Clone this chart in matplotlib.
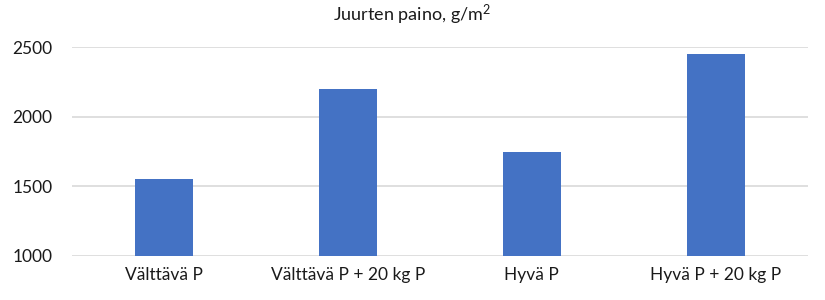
import matplotlib
matplotlib.use("Agg")
import matplotlib.pyplot as plt

categories = ["Välttävä P", "Välttävä P + 20 kg P", "Hyvä P", "Hyvä P + 20 kg P"]
values = [1550, 2200, 1750, 2450]
yticks = [1000, 1500, 2000, 2500]

plt.rcParams['font.family'] = ['Lato', 'DejaVu Sans']
plt.rcParams['mathtext.fontset'] = 'custom'
plt.rcParams['mathtext.rm'] = 'Lato'
plt.rcParams['mathtext.it'] = 'Lato:italic'

fig = plt.figure(figsize=(8.25, 3.0), dpi=100)
ax = fig.add_axes([0.0873, 0.1467, 0.979 - 0.0873, 0.843 - 0.1467])

x = range(len(categories))
ax.bar(x, values, width=0.315, color="#4472C4", zorder=3, bottom=0)
ax.set_xlim(-0.5, len(categories) - 0.5)
ax.set_ylim(1000, 2500)
ax.set_yticks(yticks)
ax.set_xticks(list(x))
ax.set_xticklabels(categories)
ax.grid(axis='y', color='#D9D9D9', linewidth=1.2, zorder=0)
ax.set_axisbelow(True)
for s in ax.spines.values():
    s.set_visible(False)
ax.tick_params(axis='both', length=0, labelsize=12.5, colors='#1a1a1a')
ax.tick_params(axis='x', pad=8)
ax.tick_params(axis='y', pad=14)

fig.text(0.5, 0.95, r"Juurten paino, g/m$^{\mathrm{2}}$", ha='center', va='center', fontsize=13, color='#1a1a1a')

fig.savefig("out.png", dpi=100)
